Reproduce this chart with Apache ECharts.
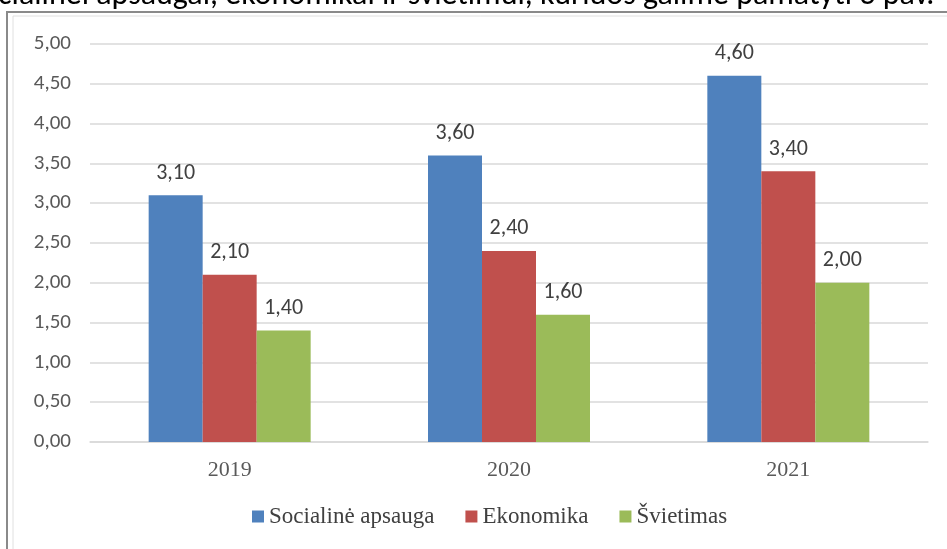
<!DOCTYPE html>
<html>
<head>
<meta charset="utf-8">
<script src="https://cdn.jsdelivr.net/npm/echarts@6/dist/echarts.min.js"></script>
<style>html,body{margin:0;padding:0;background:#fff;}#c{width:947px;height:549px;}</style>
</head>
<body>
<div id="c"></div>
<script>
const categories = ['2019', '2020', '2021'];
const seriesNames = ['Socialinė apsauga', 'Ekonomika', 'Švietimas'];
const socialine = [3.10, 3.60, 4.60];
const ekonomika = [2.10, 2.40, 3.40];
const svietimas = [1.40, 1.60, 2.00];
const colors = ['#4F81BD', '#C0504D', '#9BBB59'];
const topText = 'cialinei apsaugai, ekonomikai ir švietimui, kuriuos galime pamatyti 3 pav.';

const fmt = v => Number(v).toFixed(2).replace('.', ',');
const chart = echarts.init(document.getElementById('c'));
const values = [socialine, ekonomika, svietimas];
chart.setOption({
  animation: false,
  backgroundColor: '#fff',
  graphic: [
    { type: 'text', left: -2, top: -20, style: { text: topText, fontFamily: 'Carlito, "Open Sans", sans-serif', fontSize: 32, fill: '#000' }, z: 10 },
    { type: 'rect', shape: { x: 7, y: 12, width: 1000, height: 600 }, style: { fill: 'none', stroke: '#8a8a8a', lineWidth: 2 }, z: -1 },
    { type: 'rect', shape: { x: 13, y: 16, width: 1000, height: 600 }, style: { fill: 'none', stroke: '#e0e0e0', lineWidth: 1 }, z: -1 }
  ],
  grid: { left: 90, right: 19, top: 44, bottom: 107 },
  legend: {
    bottom: 16, left: 247,
    itemWidth: 12, itemHeight: 12, itemGap: 31,
    icon: 'rect',
    textStyle: { fontFamily: '"Liberation Serif", serif', fontSize: 23, color: '#404040' },
    data: seriesNames
  },
  xAxis: {
    type: 'category', data: categories,
    axisLine: { lineStyle: { color: '#d9d9d9', width: 1.5 } },
    axisTick: { show: false },
    axisLabel: { fontFamily: '"Liberation Serif", serif', fontSize: 22, color: '#595959', margin: 17 }
  },
  yAxis: {
    type: 'value', min: 0, max: 5, interval: 0.5,
    axisLine: { show: false }, axisTick: { show: false },
    splitLine: { lineStyle: { color: '#d9d9d9', width: 1.5 } },
    axisLabel: { formatter: fmt, fontFamily: 'Carlito, "Open Sans", sans-serif', fontSize: 21, color: '#595959', margin: 19 }
  },
  series: seriesNames.map((n, i) => ({
    name: n, type: 'bar', data: values[i], barWidth: 54, barGap: '0%',
    itemStyle: { color: colors[i] },
    label: { show: true, position: 'top', distance: 11, formatter: p => fmt(p.value), fontFamily: 'Carlito, "Open Sans", sans-serif', fontSize: 22, color: '#404040' }
  }))
});
</script>
</body>
</html>
